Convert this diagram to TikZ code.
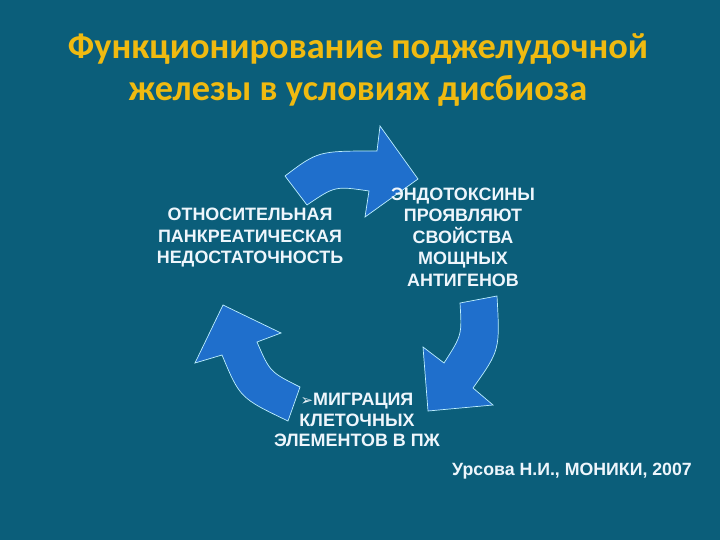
\documentclass[tikz,border=0pt]{standalone}
\usepackage{fontspec}
\setmainfont{Liberation Sans}
\newfontfamily\titlefont{Carlito}
\newfontfamily\symfont{DejaVu Sans}
\definecolor{slidebg}{RGB}{11,94,122}
\definecolor{arrowblue}{RGB}{31,111,204}
\definecolor{rimcyan}{RGB}{190,240,255}
\definecolor{titlegold}{RGB}{240,186,16}
\definecolor{textwhite}{RGB}{238,246,252}
\begin{document}
\begin{tikzpicture}[
        x=1bp, y=-1bp,
        cyclearrow/.style={fill=arrowblue, draw=rimcyan, line width=0.7pt, line join=miter},
        boxtext/.style={text=textwhite, align=center, inner sep=0pt, font=\bfseries\fontsize{18}{21.6}\selectfont},
        titletext/.style={text=titlegold, align=center, inner sep=0pt, font=\titlefont\bfseries\fontsize{36.5}{42}\selectfont},
    ]
    \fill[slidebg] (0,0) rectangle (720,540);
    \useasboundingbox (0,0) rectangle (720,540);
    % title
    \node[titletext](title) at (358,70){Функционирование поджелудочной\\железы в условиях дисбиоза};
    % cycle arrows
    \draw[cyclearrow] (285,176) .. controls (318,151) .. (377,151) -- (380,126) -- (418,179)
        -- (365,217) -- (369,191) .. controls (335,186) .. (307,205) -- cycle;
    \draw[cyclearrow] (460,303) -- (497,296) .. controls (500,350) .. (473,388) -- (493,405)
        -- (428,411) -- (423,347) -- (444,363) .. controls (462,335) .. (460,303) -- cycle;
    \draw[cyclearrow] (300,387) -- (288,421) .. controls (240,398) .. (222,355) -- (195,363)
        -- (223,305) -- (281,333) -- (257,342) .. controls (270,372) .. (300,387) -- cycle;
    % stages
    \node[boxtext](insuff) at (250,238){ОТНОСИТЕЛЬНАЯ\\ПАНКРЕАТИЧЕСКАЯ\\НЕДОСТАТОЧНОСТЬ};
    \node[boxtext](toxins) at (463,237){ЭНДОТОКСИНЫ\\ПРОЯВЛЯЮТ\\СВОЙСТВА\\МОЩНЫХ\\АНТИГЕНОВ};
    \node[boxtext, font=\bfseries\fontsize{18}{20.5}\selectfont](migration) at (357,420)
        {{\symfont\mdseries\fontsize{15}{15}\selectfont ➢}МИГРАЦИЯ\\КЛЕТОЧНЫХ\\ЭЛЕМЕНТОВ В ПЖ};
    % reference
    \node[boxtext, font=\bfseries\fontsize{17.8}{20}\selectfont](source) at (572,471){Урсова Н.И., МОНИКИ, 2007};
\end{tikzpicture}
\end{document}
